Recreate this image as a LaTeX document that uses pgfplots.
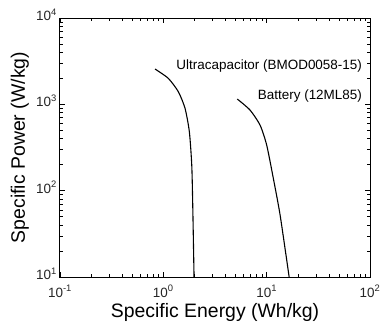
\documentclass[border=0pt]{standalone}
\usepackage{pgfplots}
\pgfplotsset{compat=1.18}
\usepackage{fontspec}
\setmainfont{Liberation Sans}
\begin{document}
\begin{tikzpicture}
\useasboundingbox (-60bp,-45bp) rectangle (321bp,277bp);
\begin{axis}[
  at={(0,0)}, anchor=south west,
  scale only axis, width=310bp, height=259bp,
  xmode=log, ymode=log, xmin=0.1, xmax=100, ymin=10, ymax=10000,
  xtick={0.1,1,10,100},
  xticklabels={10\textsuperscript{-1},10\textsuperscript{0},10\textsuperscript{1},10\textsuperscript{2}},
  ytick={10,100,1000,10000},
  yticklabels={10\textsuperscript{1},10\textsuperscript{2},10\textsuperscript{3},10\textsuperscript{4}},
  tick label style={font=\fontsize{13.5}{15}\selectfont, text=black!85},
  xticklabel style={anchor=base, yshift=-20bp},
  yticklabel style={anchor=base east, inner sep=0pt, xshift=-3bp, yshift=-2.5bp},
  xlabel={Specific Energy (Wh/kg)},
  ylabel={Specific Power (W/kg)},
  label style={font=\fontsize{19.5}{22}\selectfont},
  xlabel style={at={(axis description cs:0.5,-0.158)}, anchor=base},
  ylabel style={at={(axis description cs:-0.1129,0.5)}, anchor=base},
  major tick length=5bp, minor tick length=3bp,
  axis line style={line width=1pt},
  every tick/.style={black, line width=0.5pt},
  clip=false,
]
\addplot[black, line width=1.1pt, smooth, tension=0.4] coordinates {
(0.831,2565) (1.117,2000) (1.397,1400) (1.622,899) (1.786,482) (1.884,198) (1.926,68) (1.983,10)
};
\addplot[black, line width=1.1pt, smooth, tension=0.4] coordinates {
(5.20,1151) (6.90,859) (8.63,575) (10.0,338) (11.6,139) (13.5,52) (16.5,10)
};
\node[anchor=east, inner sep=0, font=\fontsize{13.5}{15}\selectfont] at (axis cs:83.8,2780) {Ultracapacitor (BMOD0058-15)};
\node[anchor=east, inner sep=0, font=\fontsize{13.5}{15}\selectfont] at (axis cs:83.8,1247) {Battery (12ML85)};
\end{axis}
\end{tikzpicture}
\end{document}
